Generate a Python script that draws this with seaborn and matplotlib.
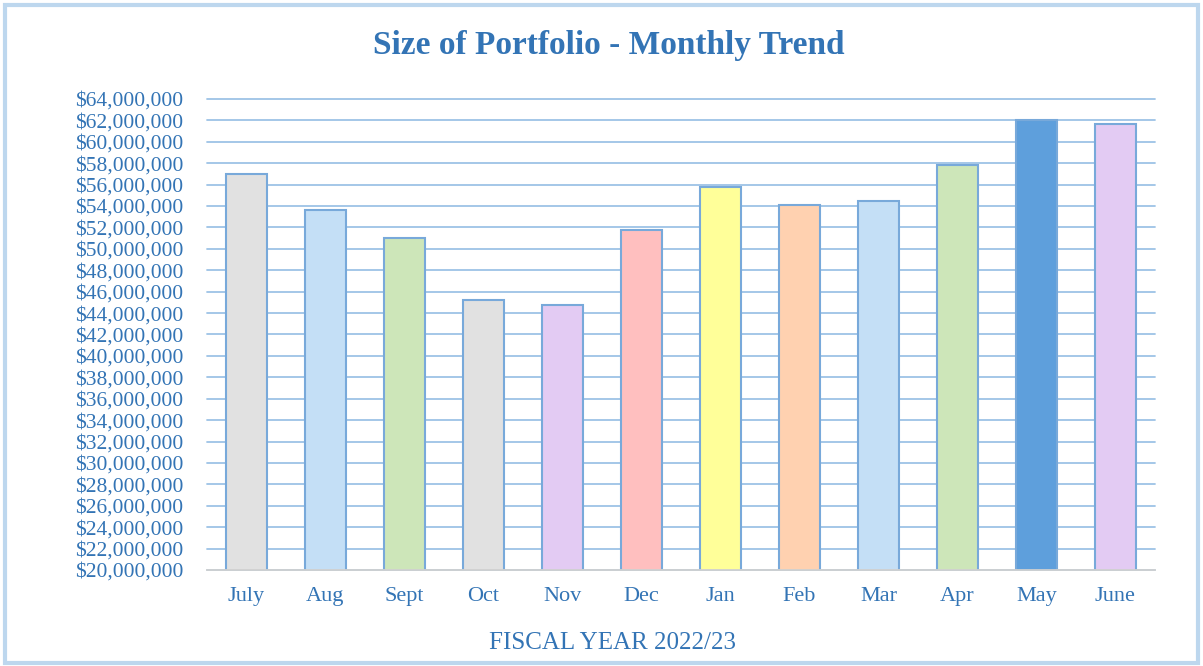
import numpy as np
import pandas as pd
import matplotlib
matplotlib.use('Agg')
import matplotlib.pyplot as plt
import seaborn as sns
from matplotlib.patches import Rectangle
from matplotlib.ticker import FuncFormatter, MultipleLocator, FixedLocator

# Monthly portfolio size, fiscal year 2022/23
months = ['July', 'Aug', 'Sept', 'Oct', 'Nov', 'Dec', 'Jan', 'Feb', 'Mar', 'Apr', 'May', 'June']
portfolio = [57.0e6, 53.6e6, 51.0e6, 45.2e6, 44.8e6, 51.8e6,
             55.8e6, 54.1e6, 54.5e6, 57.8e6, 62.0e6, 61.7e6]
bar_colors = ['#e1e1e1', '#c4dff6', '#cde6b9', '#e1e1e1', '#e3cbf3', '#ffbfbf',
              '#ffff99', '#ffd1b0', '#c4dff6', '#cde6b9', '#5e9fdc', '#e3cbf3']

text_blue = '#3374b5'
grid_blue = '#9dc3e6'

df = pd.DataFrame({'Month': months, 'Value': portfolio})

sns.set_theme(style='white')
plt.rcParams['font.family'] = ['Liberation Serif', 'DejaVu Serif']

fig = plt.figure(figsize=(12.03, 6.66), dpi=100)
ax = fig.add_axes([0.172, 0.1441, 0.788, 0.7073])

sns.barplot(data=df, x='Month', y='Value', hue='Month', palette=bar_colors,
            legend=False, width=0.52, edgecolor='#78a9da', linewidth=1.5,
            saturation=1, ax=ax, zorder=3)

ax.set_ylim(20e6, 64e6)
ax.set_xlim(-0.5, len(months) - 0.5)
ax.yaxis.set_major_locator(MultipleLocator(2e6))
ax.yaxis.set_major_formatter(FuncFormatter(lambda v, p: f'${v:,.0f}'))
ax.grid(axis='y', color=grid_blue, linewidth=1.3, zorder=0)
ax.set_axisbelow(True)
for gl in ax.get_ygridlines():
    gl.set_clip_on(False)

for s in ['top', 'right', 'left']:
    ax.spines[s].set_visible(False)
ax.spines['bottom'].set_color('#d0d0d0')
ax.spines['bottom'].set_linewidth(1.3)
ax.spines['bottom'].set_zorder(4)

ax.tick_params(axis='y', length=0, pad=17, labelsize=15.5, labelcolor=text_blue)
ax.tick_params(axis='x', length=0, pad=12, labelsize=16, labelcolor=text_blue)
ax.xaxis.set_minor_locator(FixedLocator(np.arange(-0.5, len(months), 1)))
ax.tick_params(axis='x', which='minor', length=6, color='#d0d0d0', width=1.3)
ax.set_xlabel('')
ax.set_ylabel('')

fig.text(0.506, 0.932, 'Size of Portfolio - Monthly Trend', ha='center', va='center',
         fontsize=24, fontweight='bold', color=text_blue)
fig.text(0.509, 0.035, 'FISCAL YEAR 2022/23', ha='center', va='center',
         fontsize=18, color=text_blue)

fig.patches.append(Rectangle((0.004, 0.005), 0.992, 0.988, transform=fig.transFigure,
                             fill=False, edgecolor='#bdd7ee', linewidth=3))

fig.savefig('out.png', dpi=100)
